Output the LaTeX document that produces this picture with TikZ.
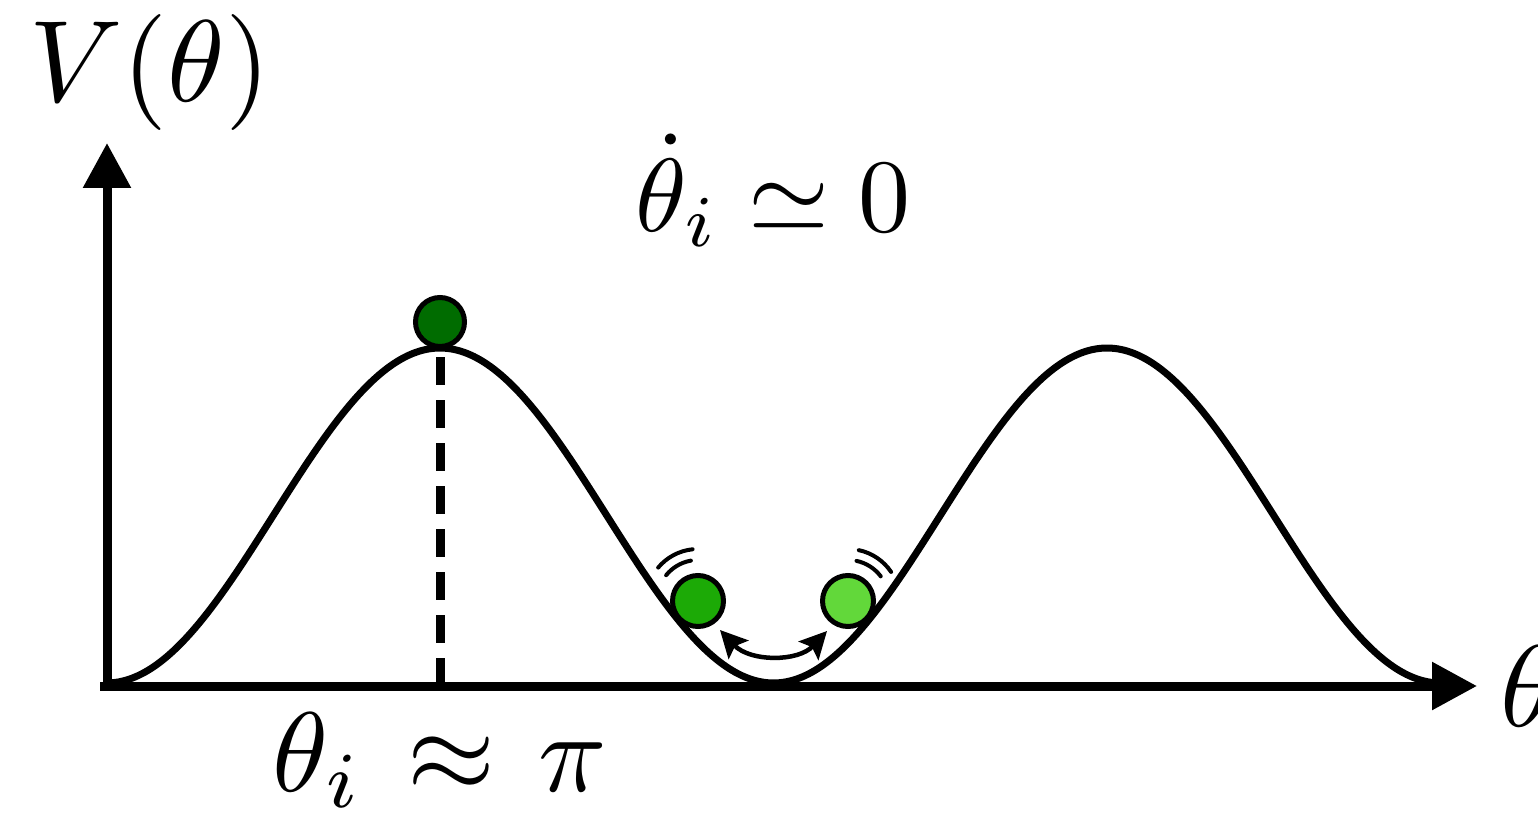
\documentclass[tikz,border=0pt]{standalone}
\usetikzlibrary{arrows.meta,calc}
\definecolor{balltop}{RGB}{0,108,0}
\definecolor{ballleft}{RGB}{28,170,6}
\definecolor{ballright}{RGB}{98,216,58}
\tikzset{
  axisline/.style={line width=9pt},
  curveline/.style={line width=7pt},
  ball/.style={circle, draw, line width=5pt, minimum size=49pt, inner sep=0pt},
  wiggle/.style={line width=4pt, line cap=round},
  bigtext/.style={inner sep=0pt},
  osctip/.tip={Stealth[length=27pt,width=27pt,inset=5pt]},
}
\begin{document}
\begin{tikzpicture}[x=1pt,y=1pt]
\useasboundingbox (0,0) rectangle (1538,-813);
% axes
\coordinate (origin) at (100,-686);
\coordinate (xend) at (1477,-686);
\coordinate (ybot) at (107,-690);
\coordinate (yend) at (107,-143);
\draw[axisline,-{Triangle[length=45pt,width=46pt]}] (origin) -- (xend);
\draw[axisline,-{Triangle[length=45pt,width=46pt]}] (ybot) -- (yend);
% potential curve
\draw[curveline, smooth, samples=200, domain=105:1440]
  plot (\x, {-(515.5-167.5*cos(0.53973*(\x-440)))});
% dashed marker
\coordinate (dtop) at (440,-357);
\coordinate (dbot) at (440,-686);
\draw[axisline, dash pattern=on 28pt off 15pt] (dtop) -- (dbot);
% balls
\node[ball, fill=balltop] (bt) at (440,-322) {};
\node[ball, fill=ballleft, minimum size=51pt] (bl) at (698,-601) {};
\node[ball, fill=ballright, minimum size=51pt] (br) at (848,-601) {};
% motion marks
\draw[wiggle] ($(bl)+(141:41)$) arc[start angle=141, end angle=100, radius=41];
\draw[wiggle] ($(bl)+(140:52)$) arc[start angle=140, end angle=96, radius=52];
\draw[wiggle] ($(br)+(37:41)$) arc[start angle=37, end angle=78, radius=41];
\draw[wiggle] ($(br)+(34:52)$) arc[start angle=34, end angle=78, radius=52];
% oscillation arrow
\coordinate (al) at (720,-630);
\coordinate (ar) at (827,-631);
\draw[line width=4.5pt, {osctip}-{osctip}]
  (al) .. controls (750,-662) and (798,-662) .. (ar);
% labels
\node[bigtext, anchor=base, scale=11.6] (vlab) at (150,-102) {$V(\theta)$};
\node[bigtext, anchor=base, scale=10.4] (tdot) at (773,-231) {$\dot{\theta}_i\simeq 0$};
\node[bigtext, anchor=base, scale=11.3] (tpi) at (440,-791) {$\theta_i\mkern2mu\approx\mkern2mu\pi$};
\node[bigtext, anchor=base west, scale=11.6] (tlab) at (1498,-726) {$\theta$};
\end{tikzpicture}
\end{document}
